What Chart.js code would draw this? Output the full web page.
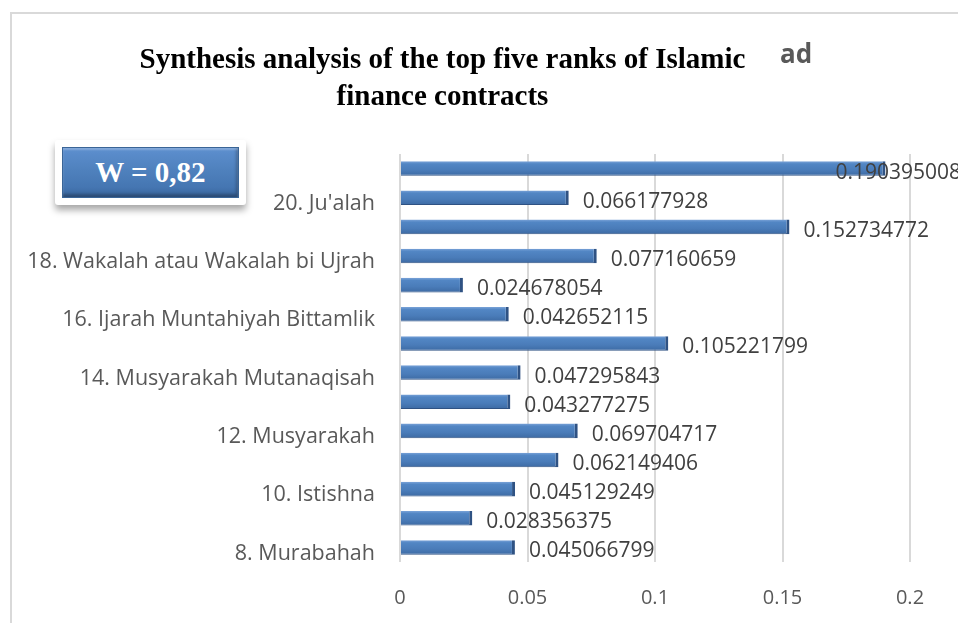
<!DOCTYPE html>
<html>
<head>
<meta charset="utf-8">
<title>Synthesis analysis of the top five ranks of Islamic finance contracts</title>
<script src="https://cdn.jsdelivr.net/npm/chart.js@4/dist/chart.umd.min.js"></script>
<style>
  html, body { margin: 0; padding: 0; background: #fff; overflow: hidden; }
  #wrap { position: relative; width: 958px; height: 623px; }
  #frame {
    position: absolute; left: 10px; top: 12px; width: 960px; height: 620px;
    border-left: 2px solid #d9d9d9; border-top: 2px solid #d9d9d9;
  }
  #chart { position: absolute; left: 0; top: 0; }
  #title {
    position: absolute; left: 0; top: 40px; width: 885px; text-align: center;
    font: bold 29px/37px "Liberation Serif", "Times New Roman", serif; color: #000;
  }
  #ghost {
    position: absolute; left: 780px; top: 40px;
    font: bold 26px/26px "Open Sans", sans-serif; color: #595959;
  }
  #wbox {
    position: absolute; left: 55px; top: 140px; width: 191px; height: 65px;
    background: #fff; border-radius: 3px;
    box-shadow: 0 5px 7px rgba(0, 0, 0, 0.35);
  }
  #wbox div {
    position: absolute; left: 7px; top: 7px; width: 175px; height: 49px;
    border: 1px solid #3a6597;
    background: linear-gradient(#5d8fcf, #4f81bd 45%, #4576b2 80%, #39649b);
    box-shadow: inset 0 2px 2px rgba(255, 255, 255, 0.25), inset -2px -3px 3px rgba(0, 0, 0, 0.25);
    color: #fff; text-align: center;
    font: bold 29px/49px "Liberation Serif", "Times New Roman", serif;
  }
</style>
</head>
<body>
<div id="wrap">
  <div id="frame"></div>
  <canvas id="chart" width="958" height="623"></canvas>
  <div id="ghost">ad</div>
  <div id="title">Synthesis analysis of the top five ranks of Islamic<br>finance contracts</div>
  <div id="wbox"><div>W = 0,82</div></div>
</div>
<script>
// Data (bottom to top)
const contracts = [
    '8. Murabahah',
    '9. Salam',
    '10. Istishna',
    '11. Mudharabah',
    '12. Musyarakah',
    '13. Ijarah',
    '14. Musyarakah Mutanaqisah',
    '15. Kafalah',
    '16. Ijarah Muntahiyah Bittamlik',
    '17. Hawalah',
    '18. Wakalah atau Wakalah bi Ujrah',
    '19. Qardh',
    '20. Ju\'alah',
    '21. Rahn'
];
const weights = [
    0.045066799,
    0.028356375,
    0.045129249,
    0.062149406,
    0.069704717,
    0.043277275,
    0.047295843,
    0.105221799,
    0.042652115,
    0.024678054,
    0.077160659,
    0.152734772,
    0.066177928,
    0.190395008
];
const xTicks = [0, 0.05, 0.1, 0.15, 0.2];
const barRatio = 0.5;

Chart.defaults.font.family = "'Open Sans', sans-serif";

// Shaded fill for each bar (light top edge, darker bottom)
function barFill(c) {
    const chart = c.chart;
    const ys = chart.scales && chart.scales.y;
    if (!ys || c.dataIndex === undefined || !ys.height) return '#4f81bd';
    const y = ys.getPixelForValue(c.dataIndex);
    const h = ys.height / contracts.length * barRatio / 2;
    const g = chart.ctx.createLinearGradient(0, y - h, 0, y + h);
    g.addColorStop(0, '#7aa3d8');
    g.addColorStop(0.18, '#5286c4');
    g.addColorStop(0.6, '#4a7cb9');
    g.addColorStop(1, '#3d6aa3');
    return g;
}

// Value labels at the end of each bar
const valueLabels = {
    id: 'valueLabels',
    afterDatasetsDraw(chart) {
        const ctx = chart.ctx;
        const meta = chart.getDatasetMeta(0);
        ctx.save();
        ctx.font = "21px 'Open Sans', sans-serif";
        ctx.fillStyle = '#404040';
        ctx.textBaseline = 'alphabetic';
        meta.data.forEach((bar, i) => {
            const txt = String(weights[i]);
            const w = ctx.measureText(txt).width;
            let x = bar.x + 14;
            if (x + w > chart.width + 3) x = chart.width + 3 - w;
            ctx.fillText(txt, x, bar.y + 10);
        });
        ctx.restore();
    }
};

new Chart(document.getElementById('chart'), {
    type: 'bar',
    data: {
        labels: contracts,
        datasets: [{
            data: weights,
            backgroundColor: barFill,
            borderColor: '#2f5283',
            borderWidth: { top: 0, right: 3, bottom: 1, left: 0 },
            borderSkipped: false,
            barPercentage: barRatio,
            categoryPercentage: 1
        }]
    },
    options: {
        indexAxis: 'y',
        responsive: false,
        animation: false,
        layout: { padding: { top: 154, right: 48, bottom: 0, left: 10 } },
        plugins: {
            legend: { display: false },
            tooltip: { enabled: false }
        },
        scales: {
            x: {
                min: 0,
                max: 0.2,
                afterFit: s => { s.height = 61; },
                afterBuildTicks: s => { s.ticks = xTicks.map(v => ({ value: v })); },
                grid: { color: '#d9d9d9', lineWidth: 2, drawTicks: false },
                border: { display: false },
                ticks: {
                    padding: 24,
                    color: '#595959',
                    font: { size: 20 },
                    callback: v => String(parseFloat(Number(v).toFixed(2)))
                }
            },
            y: {
                reverse: true,
                afterFit: s => { s.width = 390; },
                grid: { display: false, drawTicks: false },
                border: { display: false },
                ticks: {
                    autoSkip: false,
                    padding: 25,
                    labelOffset: 6,
                    color: '#595959',
                    font: { size: 21.5 },
                    callback: function(v, i) {
                        const label = this.getLabelForValue(v);
                        return parseInt(label) % 2 === 0 ? label : '';
                    }
                }
            }
        }
    },
    plugins: [valueLabels]
});
</script>
</body>
</html>
